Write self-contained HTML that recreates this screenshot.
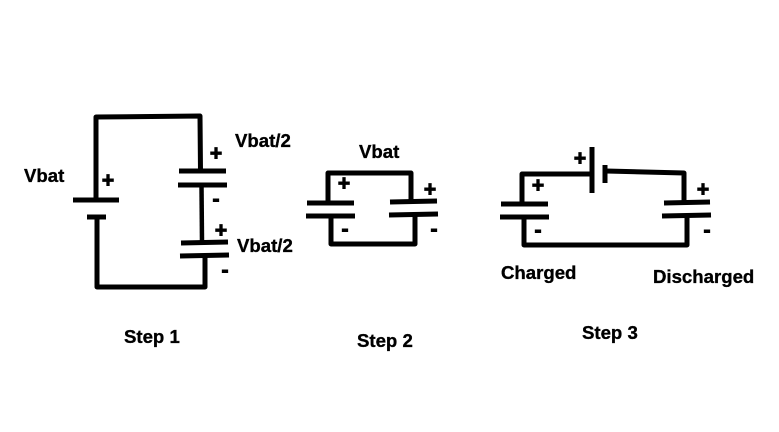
<!DOCTYPE html>
<html>
<head>
<meta charset="utf-8">
<style>
html,body{margin:0;padding:0;background:#fff;width:779px;height:432px;overflow:hidden}
svg{display:block}
text{font-family:"Liberation Sans",Arial,sans-serif;font-weight:bold;fill:#000;stroke:#000;stroke-width:.35px;font-size:18.6px}
.p{text-anchor:middle;font-size:21px;stroke-width:1px}
</style>
</head>
<body>
<svg width="779" height="432" viewBox="0 0 779 432" xmlns="http://www.w3.org/2000/svg">
<rect width="779" height="432" fill="#fff"/>
<g fill="none" stroke="#000" stroke-width="5" stroke-linejoin="round">
<!-- Step 1 -->
<path d="M96 200V117L200 116L200.500 171"/>
<path d="M179 171L226 171"/>
<path d="M178 185L227 185"/>
<path d="M201.500 185L202 242" stroke-width="4.500"/>
<path d="M181 243L228 242"/>
<path d="M180 256L229 255"/>
<path d="M205 256V287H97V217"/>
<path d="M73 200H119"/>
<path d="M87 217H106"/>
<!-- Step 2 -->
<path d="M328 203V173H411V202"/>
<path d="M307 203H354"/>
<path d="M306 216H355"/>
<path d="M331 216V244H415V215"/>
<path d="M390 202L437 201"/>
<path d="M389 215L438 214"/>
<!-- Step 3 -->
<path d="M522 204V174H591"/>
<path d="M501 204H548"/>
<path d="M500 217H549"/>
<path d="M524 217V245H687V215"/>
<path d="M664 203L710 202"/>
<path d="M662 216L711 215"/>
<path d="M606 171L684 173V203"/>
<path d="M592 147V193" stroke-width="5"/>
<path d="M605 165V183" stroke-width="5"/>
</g>
<!-- Labels -->
<text x="24" y="182">Vbat</text>
<text x="235" y="147">Vbat/2</text>
<text x="237" y="252">Vbat/2</text>
<text x="124" y="343">Step 1</text>
<text x="359" y="158">Vbat</text>
<text x="357" y="347">Step 2</text>
<text x="501" y="279">Charged</text>
<text x="653" y="283">Discharged</text>
<text x="582" y="339">Step 3</text>
<!-- Plus -->
<text class="p" x="108" y="187">+</text>
<text class="p" x="216" y="160">+</text>
<text class="p" x="221" y="237">+</text>
<text class="p" x="344" y="190">+</text>
<text class="p" x="430" y="196">+</text>
<text class="p" x="580" y="165">+</text>
<text class="p" x="538" y="192">+</text>
<text class="p" x="703" y="196">+</text>
<!-- Minus -->
<text class="p" x="216" y="206">-</text>
<text class="p" x="225" y="277">-</text>
<text class="p" x="345" y="236">-</text>
<text class="p" x="434" y="236">-</text>
<text class="p" x="538" y="237">-</text>
<text class="p" x="707" y="237">-</text>
</svg>
</body>
</html>
